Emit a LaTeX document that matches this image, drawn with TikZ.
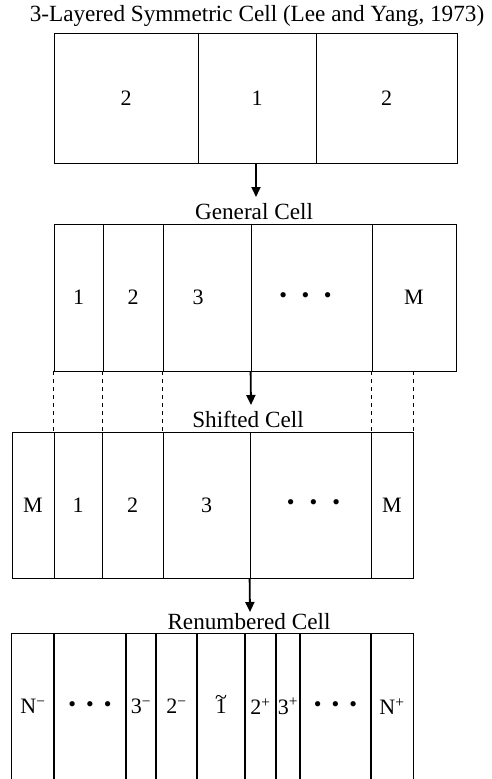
\documentclass[tikz,border=0pt]{standalone}
\usepackage{fontspec}
\setmainfont{Liberation Serif}
\usetikzlibrary{arrows.meta}
\newcommand\tdots[1]{\textbullet\hspace{#1}\textbullet\hspace{#1}\textbullet}
\newcommand\tildeone{\ooalign{1\cr\hidewidth\raisebox{0.4em}{\~{}}\hidewidth\cr}}
\newcommand\mkcell[7][cellst]{%
  \node[#1, minimum width={(#4-#3)*1pt}, minimum height={(#6-#5)*1pt}]
    (#2) at ({(#3+#4)/2},{(#5+#6)/2}) {#7};}
\begin{document}
\begin{tikzpicture}[x=1pt,y=-1pt,
  cellst/.style={draw, line width=0.8pt, inner sep=0pt, font=\fontsize{22}{26}\selectfont},
  opencell/.style={inner sep=0pt, font=\fontsize{22}{26}\selectfont},
  headst/.style={inner sep=0pt, font=\fontsize{23.2}{27}\selectfont},
  thin line/.style={line width=0.8pt},
  arr/.style={line width=1.8pt, -{Triangle[width=9pt,length=10pt]}},
  dash line/.style={line width=0.8pt, dash pattern=on 4pt off 4pt}]
\useasboundingbox (0,0) rectangle (491,779);

% headings
\node[headst] (title) at (257,16) {3-Layered Symmetric Cell (Lee and Yang, 1973)};
\node[headst] (gen) at (254,212) {General Cell};
\node[headst] (shift) at (248,419) {Shifted Cell};
\node[headst] (ren) at (249,622) {Renumbered Cell};

% top cell
\mkcell{t1}{54}{198}{33}{163}{2}
\mkcell{t2}{198}{316}{33}{163}{1}
\mkcell{t3}{316}{457}{33}{163}{2}

% general cell
\mkcell{g1}{54}{103}{224}{371}{1}
\mkcell{g2}{103}{163}{224}{371}{2}
\mkcell{g3}{163}{251}{224}{371}{\hspace{-18pt}3}
\mkcell{g4}{251}{372}{224}{371}{\hspace{-12pt}\tdots{14.5pt}}
\mkcell{g5}{372}{456}{224}{371}{M}

% shifted cell
\mkcell{s1}{12}{54}{432}{578}{M}
\mkcell{s2}{54}{102}{432}{578}{1}
\mkcell{s3}{102}{163}{432}{578}{2}
\mkcell{s4}{163}{250}{432}{578}{3}
\mkcell{s5}{250}{371}{432}{578}{\hspace{6pt}\tdots{15pt}}
\mkcell{s6}{371}{413}{432}{578}{M}

% renumbered cell (open at the bottom)
\mkcell[opencell]{r1}{12}{54}{634}{779}{N\textsuperscript{−}}
\mkcell[opencell]{r2}{54}{126}{634}{779}{\tdots{10pt}}
\mkcell[opencell]{r3}{126}{156}{634}{779}{3\textsuperscript{−}}
\mkcell[opencell]{r4}{156}{197}{634}{779}{2\textsuperscript{−}}
\mkcell[opencell]{r5}{197}{245}{634}{779}{\tildeone}
\mkcell[opencell]{r6}{245}{276}{634}{779}{2\textsuperscript{+}}
\mkcell[opencell]{r7}{276}{300}{634}{779}{3\textsuperscript{+}}
\mkcell[opencell]{r8}{300}{371}{634}{779}{\tdots{10pt}}
\mkcell[opencell]{r9}{371}{413}{634}{779}{N\textsuperscript{+}}
\foreach \n in {r1,r2,r3,r4,r5,r6,r7,r8,r9}
  \draw[thin line] (\n.south west) -- (\n.north west) -- (\n.north east) -- (\n.south east);

% arrows
\coordinate (a1e) at (256,197);
\coordinate (a2e) at (251,405);
\coordinate (a3e) at (250,612);
\draw[arr] (t2.south -| a1e) -- (a1e);
\draw[arr] (g4.south west) -- (a2e);
\draw[arr] (s5.south west) -- (a3e);

% dashed guides
\draw[dash line] (g1.south west) -- (g1.south west |- s2.north);
\draw[dash line] (g2.south west) -- (g2.south west |- s3.north);
\draw[dash line] (g3.south west) -- (g3.south west |- s4.north);
\draw[dash line] (g5.south west) -- (g5.south west |- s6.north);
\draw[dash line] (s6.north east |- g5.south) -- (s6.north east);
\end{tikzpicture}
\end{document}
